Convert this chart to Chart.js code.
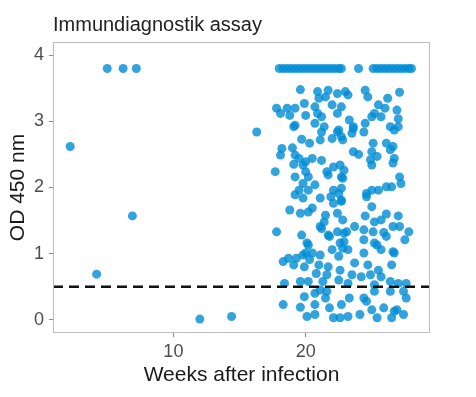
<!DOCTYPE html>
<html>
<head>
<meta charset="utf-8">
<script src="https://cdn.jsdelivr.net/npm/chart.js@4"></script>
<style>
  body { margin: 0; background: #fff; }
  #wrap { width: 476px; height: 397px; }
</style>
</head>
<body>
<div id="wrap"><canvas id="odChart" width="476" height="397"></canvas></div>
<script>
const chartTitle = 'Immundiagnostik assay';
const xTitle = 'Weeks after infection';
const yTitle = 'OD 450 nm';
const xTicks = [10, 20];
const yTicks = [0, 1, 2, 3, 4];
const xLimits = [0.9, 29.4];
const yLimits = [-0.2, 4.2];
const cutoff = 0.5;

// early samples (before week 17)
const earlyWeeks = [2.2, 4.2, 5.0, 6.2, 7.2, 6.9, 12.0, 14.4, 16.3];
const earlyOD    = [2.62, 0.69, 3.8, 3.8, 3.8, 1.57, 0.01, 0.05, 2.84];

// saturated readings (plotted at 3.8)
const satWeeks = [18.0, 18.3, 18.6, 18.9, 19.2, 19.5, 19.8, 20.1, 20.4, 20.7,
                  21.0, 21.3, 21.6, 21.9, 22.2, 22.5, 22.7, 24.0, 25.1, 25.4,
                  25.7, 26.0, 26.3, 26.6, 26.9, 27.2, 27.5, 27.8, 28.0];
const satOD = 3.8;

const highWeeks = [19.6, 20.9, 21.7, 22.4, 21.5, 21.0, 19.9, 17.8, 18.6, 19.2,
                   20.7, 22.0, 22.7, 18.8, 20.0, 20.9, 21.2, 22.4, 18.1, 19.2,
                   20.7, 21.4, 22.5, 23.0, 23.2, 24.5, 24.7, 26.2, 27.1, 25.5,
                   26.0, 25.2, 25.0, 25.7, 26.9, 27.0, 23.3, 24.5, 23.6, 26.4,
                   27.0, 19.1, 23.6, 26.7];
const highOD    = [3.48, 3.45, 3.47, 3.42, 3.37, 3.35, 3.27, 3.20, 3.20, 3.20,
                   3.22, 3.25, 3.22, 3.09, 3.09, 3.12, 3.07, 3.12, 3.12, 2.94,
                   2.97, 2.92, 2.87, 3.45, 3.40, 3.47, 3.37, 3.35, 3.44, 3.25,
                   3.20, 3.12, 3.07, 3.07, 3.17, 3.04, 3.02, 2.97, 2.92, 2.92,
                   2.92, 2.92, 2.89, 2.87];

const midWeeks = [21.2, 22.4, 19.7, 20.3, 21.1, 22.0, 22.7, 18.2, 19.0, 18.1,
                  19.2, 19.5, 20.5, 20.0, 21.2, 19.1, 19.8, 22.1, 22.6, 17.7,
                  20.0, 21.6, 22.9, 19.2, 20.2, 21.7, 22.7, 19.8, 20.7, 19.5,
                  20.2, 22.1, 22.7, 23.5, 24.4, 22.8, 25.1, 26.1, 26.6, 23.6,
                  24.0, 25.0, 25.4, 26.4, 24.9, 26.7, 25.0, 26.6, 22.8, 27.1,
                  27.2, 26.1, 26.5, 25.0, 25.5, 24.6, 19.2, 21.9, 22.5];
const midOD    = [2.84, 2.84, 2.73, 2.67, 2.72, 2.74, 2.77, 2.59, 2.60, 2.49,
                  2.49, 2.44, 2.44, 2.39, 2.41, 2.35, 2.34, 2.31, 2.34, 2.24,
                  2.24, 2.24, 2.26, 2.16, 2.16, 2.19, 2.16, 2.06, 2.04, 1.96,
                  1.96, 1.96, 1.99, 2.82, 2.84, 2.72, 2.67, 2.67, 2.62, 2.54,
                  2.50, 2.54, 2.47, 2.57, 2.42, 2.44, 2.34, 2.37, 2.14, 2.16,
                  2.06, 2.01, 2.01, 1.96, 1.96, 1.91, 1.89, 1.86, 1.91];

const lowWeeks = [19.8, 21.1, 22.1, 22.7, 18.8, 19.6, 20.2, 20.5, 21.5, 22.4,
                  21.4, 21.2, 17.8, 19.7, 21.7, 22.4, 22.9, 20.1, 22.0, 22.9,
                  20.0, 20.5, 21.1, 18.7, 19.3, 22.5, 24.6, 22.7, 25.0, 24.5,
                  25.2, 25.7, 26.1, 27.0, 22.8, 23.7, 23.1, 24.4, 25.1, 25.9,
                  26.6, 27.1, 27.8, 26.1, 27.5, 24.4, 22.8, 25.2, 25.4, 23.2,
                  25.7, 24.4, 26.6, 26.7, 21.1, 21.8, 22.6, 20.2];
const lowOD    = [1.84, 1.84, 1.76, 1.79, 1.66, 1.61, 1.63, 1.69, 1.58, 1.61,
                  1.48, 1.38, 1.33, 1.28, 1.28, 1.33, 1.31, 1.16, 1.06, 1.18,
                  1.01, 1.01, 0.98, 0.93, 0.93, 0.96, 1.86, 1.81, 1.71, 1.57,
                  1.48, 1.51, 1.60, 1.57, 1.51, 1.41, 1.33, 1.36, 1.33, 1.32,
                  1.41, 1.41, 1.33, 1.26, 1.21, 1.21, 1.08, 1.16, 1.13, 1.06,
                  1.06, 1.01, 1.03, 1.01, 1.41, 1.26, 1.16, 1.13];

const bottomWeeks = [19.8, 18.3, 20.3, 19.1, 19.9, 21.0, 21.7, 23.7, 24.7, 25.5,
                     26.5, 22.6, 20.8, 21.6, 23.5, 24.2, 24.9, 25.7, 26.4, 19.6,
                     20.2, 18.4, 21.3, 22.5, 23.2, 25.2, 27.0, 27.6, 21.1, 21.6,
                     20.7, 21.5, 23.3, 24.4, 25.2, 26.4, 27.4, 27.6, 19.9, 18.3,
                     19.6, 20.7, 21.8, 22.7, 24.6, 25.0, 25.9, 26.9, 20.1, 20.7,
                     22.1, 22.6, 23.2, 24.1, 25.4, 26.5, 27.4, 26.7];
const bottomOD    = [0.98, 0.88, 0.91, 0.83, 0.80, 0.83, 0.80, 0.86, 0.83, 0.75,
                     0.83, 0.75, 0.70, 0.68, 0.68, 0.65, 0.68, 0.65, 0.58, 0.58,
                     0.58, 0.55, 0.58, 0.60, 0.55, 0.53, 0.55, 0.55, 0.45, 0.43,
                     0.40, 0.33, 0.33, 0.33, 0.43, 0.43, 0.43, 0.33, 0.35, 0.23,
                     0.19, 0.23, 0.18, 0.23, 0.28, 0.15, 0.18, 0.15, 0.05, 0.08,
                     0.03, 0.03, 0.05, 0.08, 0.03, 0.03, 0.08, 0.13];

function toPoints(ws, ys) {
    return ws.map((w, i) => ({ x: w, y: Array.isArray(ys) ? ys[i] : ys }));
}

const points = [].concat(
    toPoints(earlyWeeks, earlyOD),
    toPoints(satWeeks, satOD),
    toPoints(highWeeks, highOD),
    toPoints(midWeeks, midOD),
    toPoints(lowWeeks, lowOD),
    toPoints(bottomWeeks, bottomOD)
);

const FONT = 'Liberation Sans, Arial, Helvetica, sans-serif';

// title + panel border, drawn by hand so they line up with the plot area
const framePlugin = {
    id: 'frame',
    afterDraw(chart) {
        const { ctx, chartArea: a } = chart;
        ctx.save();
        ctx.strokeStyle = '#bdbdbd';
        ctx.lineWidth = 1;
        ctx.strokeRect(a.left + 0.5, a.top + 0.5, a.right - a.left - 1, a.bottom - a.top - 1);
        ctx.fillStyle = '#222';
        ctx.font = '20px ' + FONT;
        ctx.textBaseline = 'alphabetic';
        ctx.textAlign = 'left';
        ctx.fillText(chartTitle, a.left, 31);
        ctx.restore();
    }
};

const axisGrid = {
    display: true,
    drawOnChartArea: false,
    drawTicks: true,
    tickLength: 4,
    tickColor: '#8a8a8a',
    tickWidth: 1
};

new Chart(document.getElementById('odChart'), {
    data: {
        datasets: [
            {
                type: 'line',
                order: 0,
                data: [{ x: xLimits[0], y: cutoff }, { x: xLimits[1], y: cutoff }],
                borderColor: '#111',
                borderWidth: 2.6,
                borderDash: [10, 6],
                pointRadius: 0,
                fill: false
            },
            {
                type: 'scatter',
                order: 1,
                data: points,
                backgroundColor: 'rgba(0, 140, 212, 0.8)',
                borderWidth: 0,
                pointRadius: 4.5,
                pointHoverRadius: 4.5
            }
        ]
    },
    options: {
        responsive: false,
        animation: false,
        layout: { padding: { top: 42, right: 46, left: 0, bottom: 0 } },
        plugins: {
            legend: { display: false },
            tooltip: { enabled: false }
        },
        scales: {
            x: {
                type: 'linear',
                min: xLimits[0],
                max: xLimits[1],
                grid: axisGrid,
                border: { display: false },
                afterBuildTicks: s => { s.ticks = xTicks.map(v => ({ value: v })); },
                afterFit: s => { s.height = 64; },
                ticks: {
                    padding: 4,
                    color: '#4d4d4d',
                    font: { family: FONT, size: 18 }
                },
                title: {
                    display: true,
                    text: xTitle,
                    color: '#1a1a1a',
                    font: { family: FONT, size: 21 },
                    padding: { top: 0, bottom: 9 }
                }
            },
            y: {
                type: 'linear',
                min: yLimits[0],
                max: yLimits[1],
                grid: axisGrid,
                border: { display: false },
                afterBuildTicks: s => { s.ticks = yTicks.map(v => ({ value: v })); },
                afterFit: s => { s.width = 53; },
                ticks: {
                    padding: 5,
                    color: '#4d4d4d',
                    font: { family: FONT, size: 18 }
                },
                title: {
                    display: true,
                    text: yTitle,
                    color: '#1a1a1a',
                    font: { family: FONT, size: 21 },
                    padding: { top: 6, bottom: 0 }
                }
            }
        }
    },
    plugins: [framePlugin]
});
</script>
</body>
</html>
